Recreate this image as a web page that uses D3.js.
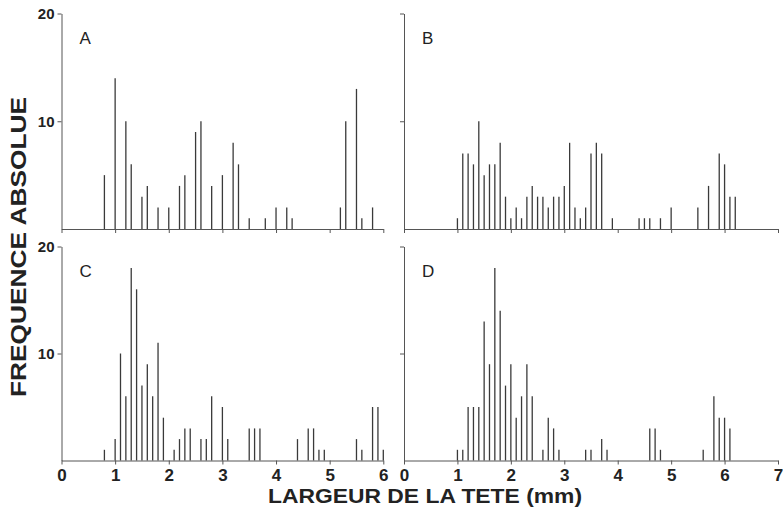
<!DOCTYPE html>
<html>
<head>
<meta charset="utf-8">
<script src="https://cdn.jsdelivr.net/npm/d3@7"></script>
<style>
    body { margin: 0; background: #fff; }
    svg { display: block; }
    .bar { stroke: #3a3a3a; stroke-width: 1.3px; }
    .axis path, .axis line { stroke: #555; stroke-width: 1px; }
    .axis text { font-family: "Liberation Sans", Arial, sans-serif; font-weight: bold; fill: #222; }
</style>
<title>Largeur de la tete</title>
</head>
<body>
<script>
// head width (mm) and absolute frequency, one pair of arrays per panel
var widthA = [0.8, 1.0, 1.2, 1.3, 1.5, 1.6, 1.8, 2.0, 2.2, 2.3, 2.5, 2.6, 2.8, 3.0, 3.2, 3.3, 3.5, 3.8, 4.0, 4.2, 4.3, 5.2, 5.3, 5.5, 5.6, 5.8];
var countA = [5, 14, 10, 6, 3, 4, 2, 2, 4, 5, 9, 10, 4, 5, 8, 6, 1, 1, 2, 2, 1, 2, 10, 13, 1, 2];

var widthB = [1.0, 1.1, 1.2, 1.3, 1.4, 1.5, 1.6, 1.7, 1.8, 1.9, 2.0, 2.1, 2.2, 2.3, 2.4, 2.5, 2.6, 2.7, 2.8, 2.9, 3.0, 3.1, 3.2, 3.3, 3.4, 3.5, 3.6, 3.7, 3.9, 4.4, 4.5, 4.6, 4.8, 5.0, 5.5, 5.7, 5.9, 6.0, 6.1, 6.2];
var countB = [1, 7, 7, 6, 10, 5, 6, 6, 8, 3, 1, 2, 1, 3, 4, 3, 3, 2, 3, 3, 4, 8, 2, 1, 2, 7, 8, 7, 1, 1, 1, 1, 1, 2, 2, 4, 7, 6, 3, 3];

var widthC = [0.8, 1.0, 1.1, 1.2, 1.3, 1.4, 1.5, 1.6, 1.7, 1.8, 1.9, 2.1, 2.2, 2.3, 2.4, 2.6, 2.7, 2.8, 3.0, 3.1, 3.5, 3.6, 3.7, 4.4, 4.6, 4.7, 4.8, 4.9, 5.5, 5.6, 5.8, 5.9, 6.0];
var countC = [1, 2, 10, 6, 18, 16, 7, 9, 6, 11, 4, 1, 2, 3, 3, 2, 2, 6, 5, 2, 3, 3, 3, 2, 3, 3, 1, 1, 2, 1, 5, 5, 1];

var widthD = [1.0, 1.1, 1.2, 1.3, 1.4, 1.5, 1.6, 1.7, 1.8, 1.9, 2.0, 2.1, 2.2, 2.3, 2.4, 2.6, 2.7, 2.8, 2.9, 3.4, 3.5, 3.7, 3.8, 4.6, 4.7, 4.8, 5.6, 5.8, 5.9, 6.0, 6.1];
var countD = [1, 1, 5, 5, 5, 13, 9, 18, 14, 7, 9, 4, 6, 9, 6, 1, 4, 3, 1, 1, 1, 2, 1, 3, 3, 1, 1, 6, 4, 4, 3];

var leftTicks = [0, 1, 2, 3, 4, 5, 6];
var rightTicks = [0, 1, 2, 3, 4, 5, 6, 7];
var yTicks = [10, 20];

var W = 783, H = 513;

var svg = d3.select("body").append("svg")
    .attr("width", W)
    .attr("height", H);

// scales: left column 0-6 mm, right column 0-7 mm
var xLeft = d3.scaleLinear().domain([0, 6]).range([61.5, 383.3]);
var xRight = d3.scaleLinear().domain([0, 7]).range([404, 778]);
var yTop = d3.scaleLinear().domain([0, 20]).range([229, 13.5]);
var yBottom = d3.scaleLinear().domain([0, 20]).range([460.5, 246.5]);

var panels = [
    {name: "A", w: widthA, c: countA, x: xLeft, y: yTop, ticks: leftTicks, yLabels: true, xLabels: false},
    {name: "B", w: widthB, c: countB, x: xRight, y: yTop, ticks: rightTicks, yLabels: false, xLabels: false},
    {name: "C", w: widthC, c: countC, x: xLeft, y: yBottom, ticks: leftTicks, yLabels: true, xLabels: true},
    {name: "D", w: widthD, c: countD, x: xRight, y: yBottom, ticks: rightTicks, yLabels: false, xLabels: true}
];

panels.forEach(function (p) {
    var g = svg.append("g");
    var x = p.x, y = p.y;

    // x axis
    var xAxis = d3.axisBottom(x)
        .tickValues(p.ticks)
        .tickSize(4)
        .tickSizeOuter(0)
        .tickPadding(4)
        .tickFormat(p.xLabels ? d3.format("d") : "");
    g.append("g")
        .attr("class", "axis")
        .attr("transform", "translate(0," + y(0) + ")")
        .call(xAxis)
        .selectAll("text")
        .style("font-size", "17px");

    // y axis
    var yAxis = d3.axisLeft(y)
        .tickValues(yTicks)
        .tickSize(4)
        .tickSizeOuter(0)
        .tickPadding(3)
        .tickFormat(p.yLabels ? d3.format("d") : "");
    g.append("g")
        .attr("class", "axis")
        .attr("transform", "translate(" + x(0) + ",0)")
        .call(yAxis)
        .selectAll("text")
        .style("font-size", "15px");

    // bars as thin vertical lines
    var data = p.w.map(function (d, i) { return {w: d, c: p.c[i]}; });
    g.selectAll(".bar")
        .data(data)
        .enter()
        .append("line")
        .attr("class", "bar")
        .attr("x1", d => x(d.w))
        .attr("x2", d => x(d.w))
        .attr("y1", y(0))
        .attr("y2", d => y(d.c));

    // panel letter
    g.append("text")
        .text(p.name)
        .attr("x", x(0) + 18)
        .attr("y", y(20) + 30)
        .style("font-family", "'Liberation Sans', Arial, sans-serif")
        .style("font-size", "17px")
        .style("fill", "#222");
});

// axis titles
svg.append("text")
    .text("LARGEUR DE LA TETE (mm)")
    .attr("x", 425)
    .attr("y", 503)
    .attr("text-anchor", "middle")
    .attr("textLength", 314)
    .attr("lengthAdjust", "spacingAndGlyphs")
    .style("font-family", "'Liberation Sans', Arial, sans-serif")
    .style("font-weight", "bold")
    .style("font-size", "21px")
    .style("fill", "#222");

svg.append("text")
    .text("FREQUENCE ABSOLUE")
    .attr("transform", "translate(26,247) rotate(-90)")
    .attr("text-anchor", "middle")
    .attr("textLength", 300)
    .attr("lengthAdjust", "spacingAndGlyphs")
    .style("font-family", "'Liberation Sans', Arial, sans-serif")
    .style("font-weight", "bold")
    .style("font-size", "22px")
    .style("fill", "#222");
</script>
</body>
</html>
